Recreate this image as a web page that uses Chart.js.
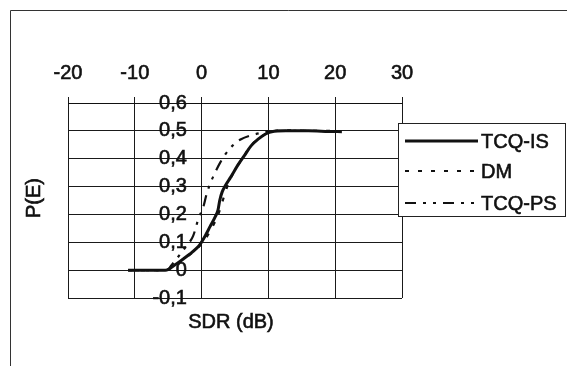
<!DOCTYPE html>
<html>
<head>
<meta charset="utf-8">
<script src="https://cdn.jsdelivr.net/npm/chart.js@4.4.1/dist/chart.umd.min.js"></script>
<style>
  html, body { margin: 0; padding: 0; background: #fff; }
  #wrap { width: 567px; height: 366px; position: relative; }
</style>
</head>
<body>
<div id="wrap"><canvas id="pe"></canvas></div>
<script>
// SDR (dB) and P(E) per method
const isSdr = [-11, -5.4, -3.85, -2.8, -1.8, -0.77, -0.26, 0.51, 1.28, 2.05, 2.46, 2.72, 3.08, 3.59, 4.36, 5.38, 6.4, 7.4, 8.46, 9.5, 10.5, 12.6, 16, 19, 21];
const isPe  = [0, 0, 0.021, 0.039, 0.057, 0.078, 0.092, 0.122, 0.157, 0.192, 0.216, 0.251, 0.281, 0.305, 0.334, 0.375, 0.411, 0.446, 0.47, 0.488, 0.497, 0.5, 0.5, 0.498, 0.497];

const dmSdr = [-11, -5.4, -3.8, -2.5, -1, 0.5, 1.5, 2.5, 3.3, 4, 5, 6.2, 7.5, 9, 10.5, 13, 16, 20];
const dmPe  = [0, 0, 0.02, 0.043, 0.07, 0.11, 0.15, 0.2, 0.26, 0.31, 0.36, 0.405, 0.45, 0.48, 0.498, 0.502, 0.5, 0.5];

const psSdr = [-11, -5.1, -4.6, -3.6, -2.3, -1.28, -0.4, 0.2, 0.77, 1.28, 2.05, 2.8, 3.6, 4.6, 5.9, 7.4, 9, 10.5, 13, 16];
const psPe  = [0, 0, 0.015, 0.045, 0.086, 0.122, 0.19, 0.222, 0.275, 0.31, 0.352, 0.387, 0.417, 0.446, 0.47, 0.484, 0.493, 0.5, 0.5, 0.5];

const seriesNames = ['TCQ-IS', 'DM', 'TCQ-PS'];
const xTickLabels = ['-20', '-10', '0', '10', '20', '30'];
const yTickLabels = ['-0,1', '0', '0,1', '0,2', '0,3', '0,4', '0,5', '0,6'];

const ink = '#111';
const font = "'Liberation Sans', Arial, sans-serif";

function pts(xs, ys) {
  return xs.map((x, i) => ({ x: x, y: ys[i] }));
}

function heavyText(ctx, str, x, y) {
  ctx.fillText(str, x, y);
  ctx.strokeText(str, x, y);
}

// frame, axis titles and the boxed legend
const decor = {
  id: 'decor',
  afterDraw(chart) {
    const ctx = chart.ctx;
    ctx.save();
    ctx.strokeStyle = '#333';
    ctx.lineWidth = 1;
    ctx.beginPath();
    ctx.moveTo(10.5, 366);
    ctx.lineTo(10.5, 10.5);
    ctx.lineTo(567, 10.5);
    ctx.stroke();

    ctx.fillStyle = ink;
    ctx.strokeStyle = ink;
    ctx.lineWidth = 0.6;
    ctx.font = '20px ' + font;
    ctx.textAlign = 'center';
    ctx.textBaseline = 'middle';
    heavyText(ctx, 'SDR (dB)', 231, 322);
    ctx.save();
    ctx.translate(34, 198);
    ctx.rotate(-Math.PI / 2);
    heavyText(ctx, 'P(E)', 0, 0);
    ctx.restore();

    // legend box
    const bx = 398.5, by = 123.5, bw = 167, bh = 93;
    ctx.fillStyle = '#fff';
    ctx.fillRect(bx, by, bw, bh);
    ctx.strokeStyle = '#222';
    ctx.lineWidth = 1;
    ctx.strokeRect(bx, by, bw, bh);
    const rows = [141, 171, 203];
    chart.data.datasets.forEach((ds, i) => {
      ctx.strokeStyle = ds.borderColor;
      ctx.lineWidth = ds.borderWidth;
      ctx.setLineDash(ds.borderDash || []);
      ctx.beginPath();
      ctx.moveTo(405, rows[i]);
      ctx.lineTo(478, rows[i]);
      ctx.stroke();
      ctx.setLineDash([]);
      ctx.fillStyle = ink;
      ctx.strokeStyle = ink;
      ctx.lineWidth = 0.6;
      ctx.textAlign = 'left';
      heavyText(ctx, ds.label, 481, rows[i] + 1);
    });
    ctx.restore();
  }
};

const tickFont = { family: font, size: 20 };

new Chart(document.getElementById('pe'), {
  type: 'scatter',
  data: {
    datasets: [
      { label: seriesNames[0], data: pts(isSdr, isPe), borderColor: ink, borderWidth: 3, borderDash: [] },
      { label: seriesNames[1], data: pts(dmSdr, dmPe), borderColor: ink, borderWidth: 2.2, borderDash: [4, 9] },
      { label: seriesNames[2], data: pts(psSdr, psPe), borderColor: ink, borderWidth: 2.2, borderDash: [11, 7, 3, 7, 3, 7] }
    ].map(d => Object.assign(d, { showLine: true, pointRadius: 0, cubicInterpolationMode: 'monotone', fill: false }))
  },
  options: {
    responsive: true,
    maintainAspectRatio: false,
    animation: false,
    devicePixelRatio: 1,
    layout: { padding: { left: 68, right: 165, top: 49, bottom: 68 } },
    plugins: { legend: { display: false }, tooltip: { enabled: false } },
    scales: {
      x: {
        type: 'linear',
        position: 'top',
        min: -20, max: 30,
        ticks: {
          stepSize: 10,
          padding: 12,
          color: ink,
          textStrokeColor: ink,
          textStrokeWidth: 0.6,
          font: tickFont,
          callback: (v, i) => xTickLabels[i]
        },
        grid: { color: '#1a1a1a', lineWidth: 1, tickLength: 6 },
        border: { color: '#111' }
      },
      y: {
        type: 'linear',
        // labels sit just left of the 0 dB line
        position: { x: -2.2 },
        min: -0.1, max: 0.6,
        ticks: {
          stepSize: 0.1,
          color: ink,
          textStrokeColor: ink,
          textStrokeWidth: 0.6,
          font: tickFont,
          callback: (v, i) => yTickLabels[i]
        },
        grid: { color: '#1a1a1a', lineWidth: 1, drawTicks: false },
        border: { display: false }
      }
    }
  },
  plugins: [decor]
});
</script>
</body>
</html>
